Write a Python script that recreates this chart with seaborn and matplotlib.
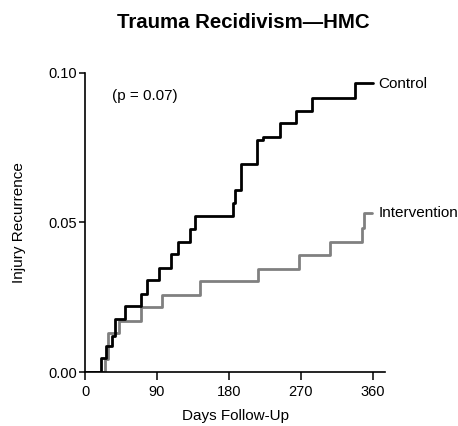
import matplotlib
matplotlib.use("Agg")
import matplotlib.pyplot as plt
import seaborn as sns
import pandas as pd

# Data
control_days = [0, 20, 26, 34, 37, 50, 70, 77, 93, 108, 116, 131, 137.5, 184.6,
                187.5, 195, 214.6, 222.9, 243.75, 263.5, 284, 338, 360]
control_vals = [0, 0.0046, 0.0087, 0.0120, 0.0178, 0.0220, 0.0262, 0.0307, 0.0349,
                0.0393, 0.0436, 0.0478, 0.0522, 0.0566, 0.0609, 0.0696, 0.0776,
                0.0787, 0.0832, 0.0872, 0.0918, 0.0967, 0.0967]
interv_days = [0, 25, 28.5, 43, 69.5, 96, 144, 216, 267.5, 306, 346.5, 349, 359]
interv_vals = [0, 0.0044, 0.0131, 0.0170, 0.0216, 0.0258, 0.0304, 0.0346, 0.0391,
               0.0436, 0.0482, 0.0533, 0.0533]
groups = ["Intervention", "Control"]
x_ticks = [0, 90, 180, 270, 360]
y_ticks = [0.00, 0.05, 0.10]
y_tick_labels = ["0.00", "0.05", "0.10"]

df = pd.concat([
    pd.DataFrame({"day": interv_days, "rec": interv_vals, "group": "Intervention"}),
    pd.DataFrame({"day": control_days, "rec": control_vals, "group": "Control"}),
], ignore_index=True)

sns.set_style("ticks")
plt.rcParams["font.family"] = ["Liberation Sans", "DejaVu Sans"]
plt.rcParams["text.color"] = "black"
plt.rcParams["axes.labelcolor"] = "black"
plt.rcParams["xtick.color"] = "black"
plt.rcParams["ytick.color"] = "black"

fig = plt.figure(figsize=(4.58, 4.26), dpi=100)
ax = fig.add_axes([85 / 458, (426 - 372) / 426, 300 / 458, 299 / 426])

sns.lineplot(data=df, x="day", y="rec", hue="group", hue_order=groups,
             palette={"Intervention": "#808080", "Control": "#000000"},
             estimator=None, drawstyle="steps-post", linewidth=2.0,
             legend=False, ax=ax)

ax.set_xlim(0, 375)
ax.set_ylim(0, 0.10)
ax.set_xticks(x_ticks)
ax.set_xticklabels([str(t) for t in x_ticks])
ax.set_yticks(y_ticks)
ax.set_yticklabels(y_tick_labels)
ax.tick_params(axis="x", length=6, width=1.1, pad=3, labelsize=10.5,
               colors="black", labelcolor="black")
ax.tick_params(axis="y", length=4, width=1.1, pad=1.5, labelsize=10.5,
               colors="black", labelcolor="black")
for s in ["top", "right"]:
    ax.spines[s].set_visible(False)
for s in ["left", "bottom"]:
    ax.spines[s].set_linewidth(1.2)
    ax.spines[s].set_color("black")
    ax.spines[s].set_clip_on(False)

ax.set_xlabel("Days Follow-Up", fontsize=11, color="black")
ax.set_ylabel("Injury Recurrence", fontsize=11, color="black")
ax.xaxis.set_label_coords(0.503, -0.125)
ax.yaxis.set_label_coords(-0.197, 0.5)

ax.text(33.5, 0.0923, "(p = 0.07)", fontsize=11, va="center", ha="left", color="black")
ax.text(366, 0.0963, "Control", fontsize=11, va="center", ha="left",
        clip_on=False, color="black")
ax.text(367, 0.0533, "Intervention", fontsize=11, va="center", ha="left",
        clip_on=False, color="black")

fig.text(243 / 458, 1 - 22 / 426, "Trauma Recidivism\u2014HMC", fontsize=14.7,
         fontweight="bold", ha="center", va="center", color="black")

fig.savefig("out.png", dpi=100)
